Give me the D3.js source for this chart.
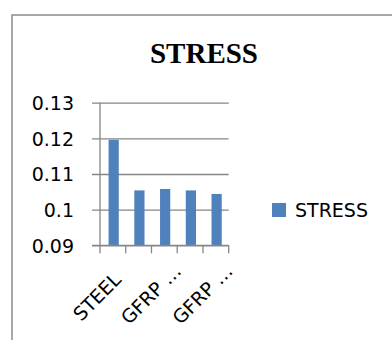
<!DOCTYPE html>
<html>
<head>
<meta charset="utf-8">
<script src="https://cdn.jsdelivr.net/npm/d3@7/dist/d3.min.js"></script>
<style>
  html, body { margin: 0; padding: 0; background: #fff; }
  svg { display: block; }
</style>
</head>
<body>
<svg id="chart" width="392" height="340"></svg>
<script>
// ---- data ----
const title = "STRESS";
const seriesName = "STRESS";
const categories = ["STEEL", "GFRP 1", "GFRP 2", "GFRP 3", "GFRP 4"];
const stressValues = [0.1196, 0.1054, 0.1058, 0.1054, 0.1044];
const tickLabels = ["STEEL  ", "", "GFRP …", "", "GFRP …"];
const yTicks = [0.09, 0.10, 0.11, 0.12, 0.13];
const yTickLabels = ["0.09", "0.1", "0.11", "0.12", "0.13"];

// ---- layout ----
const svg = d3.select("#chart");
const plot = { left: 100, right: 228.7, top: 102.7, bottom: 245.3 };
const barColor = "#4F81BD";
const gridColor = "#868686";
const font = "'DejaVu Sans', sans-serif";

const x = d3.scaleBand().domain(d3.range(categories.length)).range([plot.left, plot.right]).padding(0);
const y = d3.scaleLinear().domain([0.09, 0.13]).range([plot.bottom, plot.top]);

// outer frame (top and left visible)
svg.append("path")
  .attr("d", `M12,345 L12,15 L400,15`)
  .attr("fill", "none").attr("stroke", "#8c8c8c").attr("stroke-width", 1.5);

// title
svg.append("text")
  .attr("x", 204).attr("y", 63)
  .attr("text-anchor", "middle")
  .attr("font-family", "'Liberation Serif', 'Times New Roman', serif")
  .attr("font-weight", "bold").attr("font-size", 29)
  .attr("fill", "#000").text(title);

// y gridlines + labels via axis
const yAxis = d3.axisLeft(y).tickValues(yTicks)
  .tickFormat((d, i) => yTickLabels[i])
  .tickSize(-(plot.right - plot.left)).tickSizeOuter(0).tickPadding(26);
const gy = svg.append("g").attr("transform", `translate(${plot.left},0)`).call(yAxis);
gy.select(".domain").remove();
gy.selectAll(".tick line")
  .attr("x1", -8).attr("x2", plot.right - plot.left)
  .attr("stroke", gridColor).attr("stroke-width", 1.3);
gy.selectAll(".tick text")
  .attr("font-family", font).attr("font-size", 19).attr("fill", "#000")
  .attr("x", -26).attr("dy", "0.36em");

// bars
const barW = 10.2;
svg.append("g").selectAll("rect")
  .data(stressValues)
  .join("rect")
  .attr("x", (d, i) => x(i) + (x.bandwidth() - barW) / 2 + 0.8)
  .attr("width", barW)
  .attr("y", d => y(d))
  .attr("height", d => y(0.09) - y(d))
  .attr("fill", barColor);

// y axis line
svg.append("line")
  .attr("x1", plot.left).attr("x2", plot.left)
  .attr("y1", plot.top).attr("y2", plot.bottom)
  .attr("stroke", gridColor).attr("stroke-width", 1.3);

// x axis line + tick marks
svg.append("line")
  .attr("x1", plot.left - 8).attr("x2", plot.right)
  .attr("y1", plot.bottom).attr("y2", plot.bottom)
  .attr("stroke", gridColor).attr("stroke-width", 1.3);
const boundaries = d3.range(categories.length + 1).map(i => i < categories.length ? x(i) : plot.right);
svg.append("g").selectAll("line")
  .data(boundaries)
  .join("line")
  .attr("x1", d => d).attr("x2", d => d)
  .attr("y1", plot.bottom).attr("y2", plot.bottom + 8)
  .attr("stroke", gridColor).attr("stroke-width", 1.3);

// category labels, rotated -45
svg.append("g").selectAll("text")
  .data(tickLabels)
  .join("text")
  .attr("transform", (d, i) => `translate(${x(i) + x.bandwidth() / 2 + 18},${plot.bottom + 27}) rotate(-45)`)
  .attr("text-anchor", "end")
  .attr("xml:space", "preserve")
  .style("white-space", "pre")
  .attr("font-family", font).attr("font-size", 19).attr("fill", "#000")
  .text(d => d);

// legend
const lg = svg.append("g").attr("transform", "translate(272,203)");
lg.append("rect").attr("width", 14).attr("height", 14).attr("fill", barColor);
lg.append("text").attr("x", 23).attr("y", 14)
  .attr("font-family", font).attr("font-size", 19).attr("fill", "#000")
  .text(seriesName);
</script>
</body>
</html>
